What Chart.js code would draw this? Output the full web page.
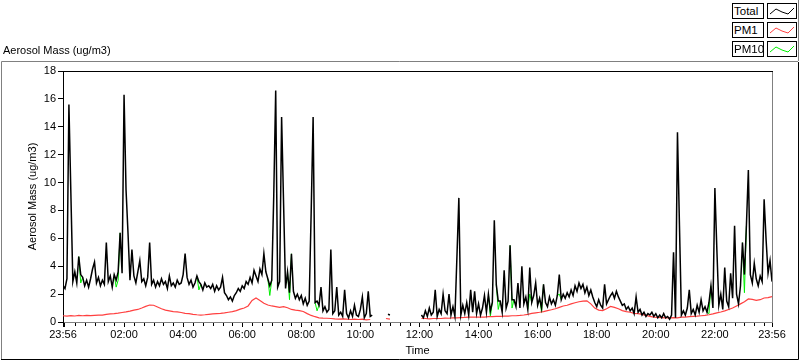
<!DOCTYPE html>
<html><head><meta charset="utf-8">
<script src="https://cdn.jsdelivr.net/npm/chart.js@4.4.0/dist/chart.umd.min.js"></script>
<style>
html,body{margin:0;padding:0;background:#fff;}
#wrap{position:relative;width:800px;height:361px;overflow:hidden;font-family:"Liberation Sans",Arial,sans-serif;color:#000;}
#c{position:absolute;left:0;top:0;}
.ttl{position:absolute;left:3px;top:44px;font-size:11px;line-height:13px;white-space:nowrap;}
.lb{position:absolute;left:732px;width:32px;height:16px;border:1px solid #000;box-sizing:border-box;font-size:11.5px;line-height:14px;padding-left:1px;background:#fff;white-space:nowrap;}
.ls{position:absolute;left:767px;width:30px;height:16px;border:1px solid #000;box-sizing:border-box;background:#fff;}
.ls svg{position:absolute;left:0;top:0;}
</style>
</head><body>
<div id="wrap">
<canvas id="c" width="800" height="361"></canvas>
<div class="ttl">Aerosol Mass (ug/m3)</div>
<div class="lb" style="top:3px">Total</div>
<div class="ls" style="top:3px"><svg width="28" height="14"><polyline points="2,10 8,5 14,8 20,10 26,4" fill="none" stroke="#000" stroke-width="1"/></svg></div>
<div class="lb" style="top:22px">PM1</div>
<div class="ls" style="top:22px"><svg width="28" height="14"><polyline points="2,10 8,5 14,8 20,10 26,4" fill="none" stroke="#ff4040" stroke-width="1"/></svg></div>
<div class="lb" style="top:41px">PM10</div>
<div class="ls" style="top:41px"><svg width="28" height="14"><polyline points="2,10 8,5 14,8 20,10 26,4" fill="none" stroke="#00ee00" stroke-width="1"/></svg></div>
</div>
<script>
// minutes since 23:56 (start of record); Total & PM10 every 4 min, PM1 every 8 min
const startLabel = '23:56';
const startClock = 23*60+56;
const stepTotal = 4;
const stepPM1 = 8;
const yTicks = [0,2,4,6,8,10,12,14,16,18];
const majorTicks = [0,4,124,244,364,484,604,724,844,964,1084,1204,1324,1440];
const minorTicks = [24,44,64,84,104,144,164,184,204,224,264,284,304,324,344,384,404,424,444,464,504,524,544,564,584,624,644,664,684,704,744,764,784,804,824,864,884,904,924,944,984,1004,1024,1044,1064,1104,1124,1144,1164,1184,1224,1244,1264,1284,1304,1344,1364,1384,1404,1424];

const total = [
2.6,2.4,3.1,15.6,9.2,2.9,3.6,2.8,4.7,3.4,3.2,2.6,3.0,2.5,3.1,
3.8,4.3,2.8,3.2,2.6,3.0,2.7,5.7,2.9,3.3,2.5,3.4,3.0,3.6,6.4,
3.5,16.3,9.5,6.4,3.0,5.2,3.3,2.8,3.6,4.4,2.9,3.1,2.6,3.2,5.7,
2.7,3.0,2.5,2.9,2.6,3.1,2.7,2.9,2.4,3.3,2.6,2.8,2.5,3.0,2.7,
2.8,3.4,4.9,3.2,2.7,3.0,2.5,2.8,3.3,2.9,2.7,2.3,2.8,2.5,2.6,
2.4,2.7,2.2,2.6,2.3,2.5,3.2,2.1,1.9,1.6,1.8,1.5,1.9,2.1,2.4,
2.2,2.6,2.4,2.9,2.7,3.2,2.8,3.7,3.3,2.9,3.8,3.4,4.9,3.6,3.1,
2.6,3.0,9.0,16.6,2.5,2.9,14.7,8.5,2.4,3.6,2.1,4.9,2.2,1.7,2.0,
1.6,1.9,1.3,1.7,1.2,1.5,7.8,14.7,1.4,1.5,1.2,2.5,0.8,1.1,0.7,
0.9,5.2,0.6,0.8,2.5,0.5,0.7,0.4,2.3,0.6,0.3,0.8,0.4,1.2,0.5,
0.4,0.9,1.8,0.3,0.6,2.2,0.4,0.5,null,null,null,null,null,null,null,
0.55,0.5,null,null,null,null,null,null,null,null,null,null,null,null,null,
null,null,0.5,0.3,0.8,0.4,1.0,0.5,0.7,2.3,0.4,0.9,0.6,2.0,0.8,
0.6,2.0,0.5,1.1,0.4,4.6,8.9,0.5,1.2,0.6,1.4,0.5,2.3,0.7,2.2,
0.6,1.3,0.5,1.0,1.9,0.7,2.0,0.8,1.4,7.3,2.7,1.5,1.5,0.7,3.7,
1.0,1.5,5.5,1.6,1.6,1.1,2.8,1.0,4.0,1.3,1.8,0.9,3.9,1.4,1.9,
2.8,1.2,1.7,1.0,2.7,1.4,1.1,1.8,1.3,1.6,1.2,1.9,3.4,1.6,2.0,
1.7,2.1,1.8,2.3,1.9,2.6,2.2,2.8,2.4,2.7,2.1,2.5,1.9,2.3,1.8,
1.4,1.1,1.6,1.2,1.0,2.7,1.3,1.6,1.9,2.1,1.7,2.2,1.8,1.5,1.2,
1.3,0.9,1.1,0.8,1.0,0.6,1.8,0.7,0.9,0.5,0.7,0.4,0.6,0.5,0.7,
0.4,0.6,0.3,0.5,0.3,0.6,0.3,0.4,0.2,0.5,5.0,0.3,13.6,7.0,0.5,
0.8,0.5,1.0,2.3,0.6,0.9,0.5,1.2,0.7,1.6,0.8,1.1,0.7,1.4,2.6,
1.0,9.6,5.2,1.2,2.0,0.9,3.9,1.5,1.1,3.5,1.7,6.9,2.0,1.3,2.6,
5.7,3.4,6.9,10.9,3.4,2.8,4.2,3.1,2.6,3.3,2.9,8.8,5.9,3.5,4.4,2.9
];

const pm10 = [
2.6,2.4,3.1,15.6,9.2,2.9,3.6,2.8,4.7,2.8,3.2,2.6,3.0,2.5,3.1,
3.8,4.3,2.8,3.2,2.6,3.0,2.7,5.7,2.9,3.3,2.5,3.4,2.5,3.0,6.4,
3.5,16.3,9.5,6.4,3.0,5.2,3.3,2.8,3.6,4.4,2.9,3.1,2.6,3.2,5.7,
2.7,3.0,2.5,2.9,2.6,3.1,2.7,2.9,2.4,3.3,2.6,2.8,2.5,3.0,2.7,
2.8,3.4,4.9,3.2,2.7,3.0,2.5,2.8,3.3,2.3,2.7,2.3,2.8,2.5,2.6,
2.4,2.7,2.2,2.6,2.3,2.5,3.2,2.1,1.9,1.6,1.8,1.5,1.9,2.1,2.4,
2.2,2.6,2.4,2.9,2.7,3.2,2.8,3.7,3.3,2.9,3.8,3.4,4.9,3.6,3.1,
1.9,3.0,9.0,16.6,2.5,2.9,14.7,8.5,2.4,3.6,1.6,4.9,2.2,1.7,2.0,
1.6,1.9,1.3,1.7,1.2,1.5,7.8,14.7,1.4,0.8,1.2,2.5,0.8,1.1,0.7,
0.9,5.2,0.6,0.8,2.5,0.5,0.7,0.4,2.3,0.6,0.3,0.8,0.4,1.2,0.5,
0.4,0.9,1.8,0.3,0.6,2.2,0.4,0.5,null,null,null,null,null,null,null,
0.55,0.5,null,null,null,null,null,null,null,null,null,null,null,null,null,
null,null,0.5,0.3,0.8,0.4,1.0,0.5,0.7,2.3,0.4,0.9,0.6,2.0,0.8,
0.6,2.0,0.5,1.1,0.4,4.6,8.9,0.5,1.2,0.6,1.4,0.5,2.3,0.7,2.2,
0.6,1.3,0.5,1.0,1.9,0.7,2.0,0.4,1.4,7.3,2.7,0.9,1.5,0.7,3.7,
1.0,1.5,5.5,1.0,1.6,1.1,2.8,1.0,4.0,1.3,1.8,0.9,2.0,1.4,1.9,
2.8,1.2,1.7,0.7,2.7,1.4,1.1,1.8,1.3,1.6,1.2,1.9,2.0,1.6,2.0,
1.7,2.1,1.8,2.3,1.9,2.6,2.2,2.8,2.4,2.7,2.1,2.5,1.9,2.3,1.8,
1.4,1.1,1.6,1.2,1.0,2.7,1.3,1.6,1.9,2.1,1.7,2.2,1.8,1.5,1.2,
1.3,0.9,1.1,0.8,1.0,0.6,1.8,0.7,0.9,0.5,0.7,0.4,0.6,0.5,0.7,
0.4,0.6,0.3,0.5,0.3,0.6,0.3,0.4,0.2,0.5,5.0,0.3,13.6,7.0,0.5,
0.8,0.5,1.0,2.3,0.6,0.9,0.5,1.2,0.7,1.6,0.8,1.1,0.7,0.6,2.6,
1.0,9.6,5.2,1.2,2.0,0.9,3.9,1.5,1.1,3.5,1.7,6.9,2.0,1.3,2.6,
5.7,2.1,6.9,10.9,3.4,2.8,4.2,3.1,2.6,3.3,2.9,8.8,5.9,3.5,4.4,2.9
];

const pm1 = [
0.45,0.42,0.45,0.43,0.47,0.45,0.47,0.46,0.48,0.5,
0.5,0.55,0.58,0.6,0.63,0.68,0.72,0.78,0.85,0.9,
1.0,1.12,1.22,1.2,1.08,0.95,0.85,0.8,0.75,0.72,
0.68,0.62,0.6,0.55,0.52,0.5,0.52,0.55,0.58,0.6,
0.62,0.65,0.7,0.75,0.82,0.92,1.0,1.15,1.55,1.72,
1.55,1.35,1.22,1.15,1.1,1.05,1.1,1.02,0.9,0.85,
0.82,0.75,0.6,0.47,0.38,0.3,0.28,0.27,0.25,0.22,
0.2,0.22,0.2,0.18,0.2,0.18,0.2,0.15,0.18,null,
null,null,0.25,0.2,null,null,null,null,null,null,
null,0.25,0.25,0.22,0.25,0.25,0.25,0.28,0.27,0.3,
0.3,0.32,0.33,0.35,0.35,0.35,0.36,0.35,0.38,0.38,
0.4,0.4,0.42,0.42,0.45,0.45,0.47,0.5,0.55,0.62,
0.66,0.7,0.75,0.82,0.88,0.95,1.05,1.15,1.2,1.3,
1.38,1.45,1.5,1.52,1.3,1.0,0.85,0.82,0.95,1.12,
1.05,0.95,0.82,0.75,0.7,0.62,0.6,0.55,0.48,0.4,
0.35,0.33,0.32,0.3,0.3,0.32,0.3,0.35,0.35,0.38,
0.4,0.42,0.45,0.48,0.52,0.58,0.65,0.72,0.8,0.9,
1.0,1.15,1.3,1.45,1.65,1.62,1.55,1.6,1.72,1.75,
1.82
];

function clock(t){
  if (t === 0 || t === 1440) return startLabel;
  const m = (startClock + t) % 1440;
  const h = Math.floor(m/60), mm = m%60;
  return String(h).padStart(2,'0') + ':' + String(mm).padStart(2,'0');
}
const toXY = (arr, step) => arr.map((v,i)=>({x:i*step, y:v}));
// PM10 mostly lies under Total; only show it where the two differ
const pm10Seg = (c) => (pm10[c.p0DataIndex] === total[c.p0DataIndex] && pm10[c.p1DataIndex] === total[c.p1DataIndex]) ? 'rgba(0,0,0,0)' : undefined;

Chart.defaults.font.family = '"Liberation Sans", Arial, sans-serif';
Chart.defaults.font.size = 11;
Chart.defaults.color = '#000';

const deco = {
  id:'deco',
  afterDraw(chart){
    const {ctx, chartArea:a, scales:{x}} = chart;
    ctx.save();
    ctx.lineWidth = 1;
    ctx.strokeStyle = '#000';
    ctx.beginPath(); ctx.moveTo(a.left, a.top+0.5); ctx.lineTo(a.right+1, a.top+0.5); ctx.stroke();
    ctx.strokeStyle = '#808080';
    ctx.beginPath(); ctx.moveTo(a.right+0.5, a.top+1); ctx.lineTo(a.right+0.5, a.bottom+1); ctx.stroke();
    ctx.strokeStyle = '#000';
    ctx.beginPath();
    for (const t of minorTicks){
      const px = Math.round(x.getPixelForValue(t)) + 0.5;
      ctx.moveTo(px, a.bottom+1); ctx.lineTo(px, a.bottom+4);
    }
    ctx.stroke();
    ctx.strokeStyle = '#808080';
    ctx.beginPath(); ctx.moveTo(1.5, 359); ctx.lineTo(1.5, 61.5); ctx.lineTo(798, 61.5); ctx.stroke();
    ctx.beginPath(); ctx.moveTo(798.5, 0); ctx.lineTo(798.5, 61); ctx.stroke();
    ctx.strokeStyle = '#000';
    ctx.beginPath(); ctx.moveTo(1, 359.5); ctx.lineTo(798.5, 359.5); ctx.lineTo(798.5, 62); ctx.stroke();
    ctx.restore();
  }
};

new Chart(document.getElementById('c'), {
  type:'line',
  data:{
    datasets:[
      {label:'Total', order:0, data:toXY(total, stepTotal), borderColor:'#000', borderWidth:1.5, pointRadius:0, spanGaps:false, tension:0},
      {label:'PM1', order:1, data:toXY(pm1, stepPM1), borderColor:'#ff4040', borderWidth:1.2, pointRadius:0, spanGaps:false, tension:0},
      {label:'PM10', order:2, data:toXY(pm10, stepTotal), borderColor:'#00ee00', borderWidth:1, pointRadius:0, spanGaps:false, tension:0, segment:{borderColor:pm10Seg}}
    ]
  },
  options:{
    responsive:false, animation:false, events:[],
    layout:{padding:{left:0, right:28, top:71, bottom:0}},
    plugins:{legend:{display:false}, tooltip:{enabled:false}},
    scales:{
      x:{
        type:'linear', min:0, max:1440,
        afterBuildTicks:(s)=>{ s.ticks = majorTicks.map(v=>({value:v})); },
        afterFit:(s)=>{ s.height = 39; },
        ticks:{autoSkip:false, maxRotation:0, padding:1, callback:(v)=> v===4 ? '' : clock(v)},
        grid:{drawOnChartArea:false, drawTicks:true, tickLength:5, tickColor:'#000'},
        border:{color:'#808080'},
        title:{display:true, text:'Time', padding:{top:0,bottom:3}}
      },
      y:{
        min:0, max:18,
        afterBuildTicks:(s)=>{ s.ticks = yTicks.map(v=>({value:v})); },
        afterFit:(s)=>{ s.width = 63; },
        ticks:{padding:2},
        grid:{drawOnChartArea:false, drawTicks:true, tickLength:5, tickColor:'#000'},
        border:{color:'#000'},
        title:{display:true, text:'Aerosol Mass (ug/m3)', padding:{top:26,bottom:0}}
      }
    }
  },
  plugins:[deco]
});
</script>
</body></html>
